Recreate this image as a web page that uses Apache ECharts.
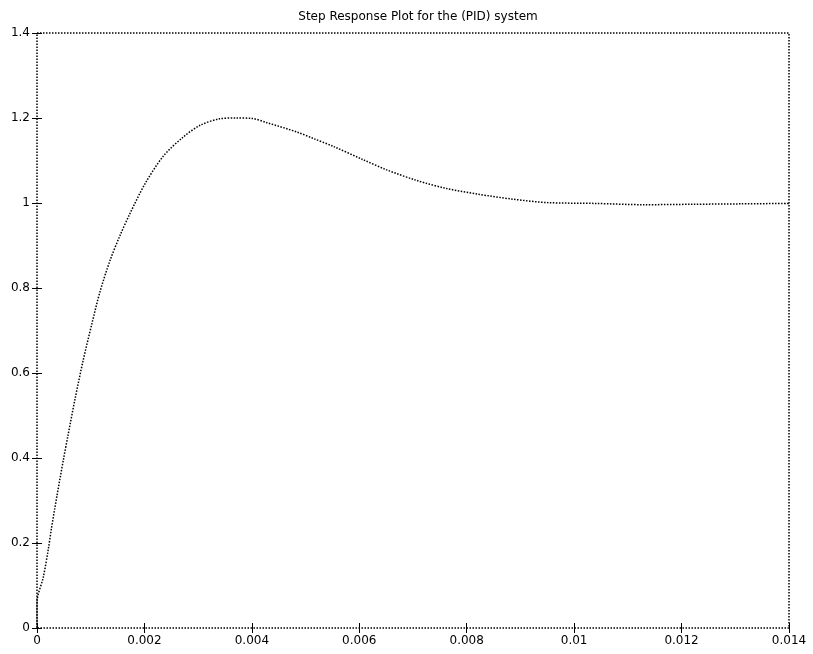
<!DOCTYPE html>
<html>
<head>
<meta charset="utf-8">
<script src="https://cdn.jsdelivr.net/npm/echarts@6/dist/echarts.min.js"></script>
<style>html,body{margin:0;padding:0;background:#fff}#c{width:813px;height:654px}</style>
</head>
<body>
<div id="c"></div>
<script>
const titleText = "Step Response Plot for the (PID) system";
const xTicks = [0, 0.002, 0.004, 0.006, 0.008, 0.01, 0.012, 0.014];
const yTicks = [0, 0.2, 0.4, 0.6, 0.8, 1, 1.2, 1.4];
const timeValues = [0, 0, 0.000118, 0.00021, 0.00027, 0.00037, 0.00049, 0.00058, 0.00071, 0.00086, 0.00102, 0.00117, 0.00136, 0.00155, 0.00173, 0.00201, 0.00235, 0.00272, 0.00304, 0.0034, 0.0037, 0.004, 0.00428, 0.00484, 0.00514, 0.00552, 0.00607, 0.00651, 0.00707, 0.00763, 0.0082, 0.00886, 0.0095, 0.0104, 0.0113, 0.0122, 0.0131, 0.014];
const responseValues = [0, 0.06, 0.12, 0.185, 0.235, 0.31, 0.395, 0.455, 0.54, 0.63, 0.715, 0.79, 0.865, 0.925, 0.975, 1.045, 1.11, 1.155, 1.183, 1.198, 1.2, 1.199, 1.189, 1.167, 1.152, 1.133, 1.102, 1.078, 1.053, 1.034, 1.021, 1.009, 1.001, 0.999, 0.996, 0.997, 0.998, 0.999];

const pts = timeValues.map((t, i) => [t, responseValues[i]]);
const fmt = v => String(parseFloat(v.toFixed(3)));
const lblFont = {fontFamily: 'DejaVu Sans', fontSize: 12, color: '#000'};

const chart = echarts.init(document.getElementById('c'));
chart.setOption({
  animation: false,
  backgroundColor: '#fff',
  title: {
    text: titleText, left: 413, top: 6, textAlign: 'center',
    textStyle: {fontFamily: 'DejaVu Sans', fontSize: 12, fontWeight: 'normal', color: '#000'}
  },
  grid: {left: 37, right: 24, top: 33, bottom: 26, show: true, borderColor: '#000', borderWidth: 1.5, borderType: 'dotted'},
  xAxis: [{
    type: 'value', min: xTicks[0], max: xTicks[xTicks.length - 1], interval: 0.002,
    axisLine: {show: false}, splitLine: {show: false},
    axisTick: {inside: true, length: 5, lineStyle: {color: '#000'}},
    axisLabel: Object.assign({margin: 7, formatter: fmt}, lblFont)
  }, {
    type: 'value', position: 'top', min: xTicks[0], max: xTicks[xTicks.length - 1], interval: 0.002,
    axisLine: {show: false}, splitLine: {show: false},
    axisTick: {inside: true, length: 5, lineStyle: {color: '#000'}},
    axisLabel: {show: false}
  }],
  yAxis: [{
    type: 'value', min: yTicks[0], max: yTicks[yTicks.length - 1], interval: 0.2,
    axisLine: {show: false}, splitLine: {show: false},
    axisTick: {inside: true, length: 5, lineStyle: {color: '#000'}},
    axisLabel: Object.assign({margin: 7, formatter: v => String(parseFloat(v.toFixed(1)))}, lblFont)
  }, {
    type: 'value', position: 'right', min: yTicks[0], max: yTicks[yTicks.length - 1], interval: 0.2,
    axisLine: {show: false}, splitLine: {show: false},
    axisTick: {inside: true, length: 5, lineStyle: {color: '#000'}},
    axisLabel: {show: false}
  }],
  series: [{
    type: 'line', data: pts, xAxisIndex: 0, yAxisIndex: 0,
    showSymbol: false, smooth: 0.3,
    lineStyle: {color: '#000', width: 1.5, type: 'dotted'}
  }]
});
</script>
</body>
</html>
